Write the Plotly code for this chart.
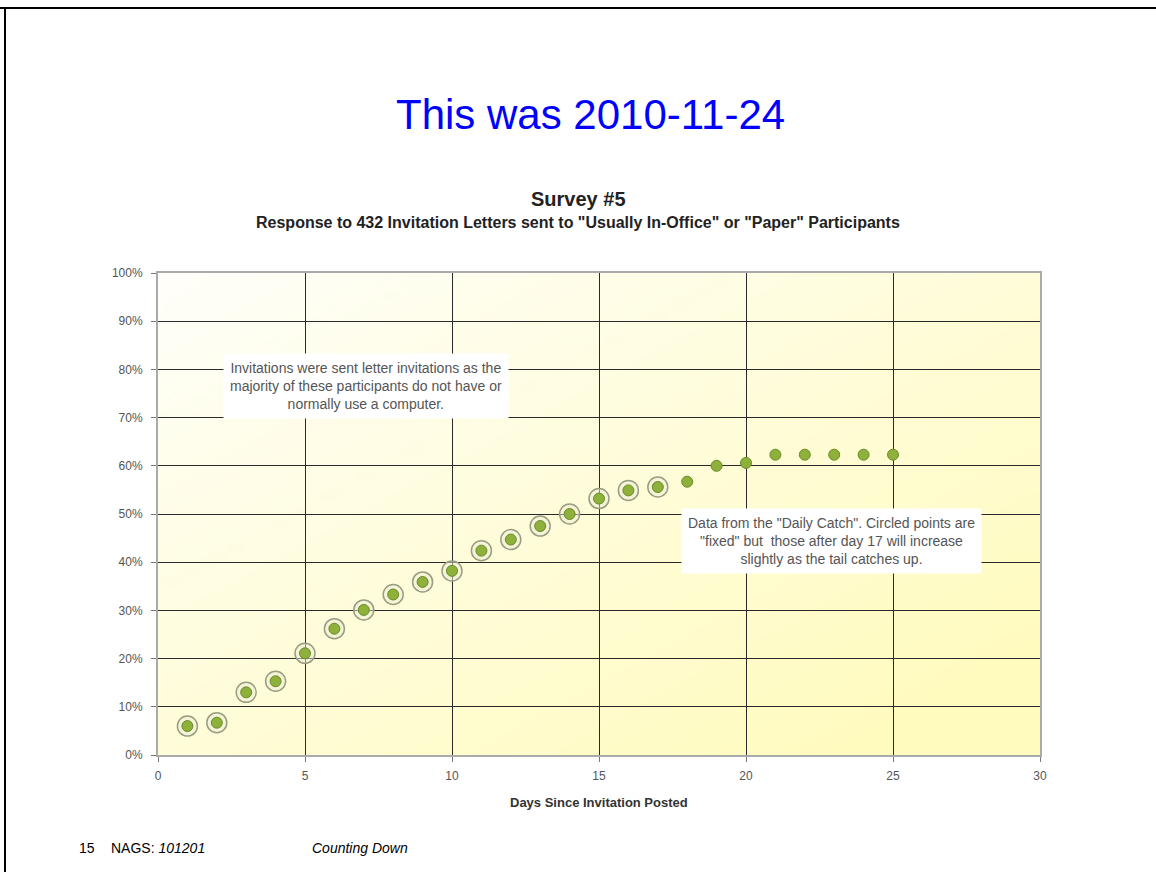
import base64
import struct
import zlib
import numpy as np
import plotly.graph_objects as go

days = list(range(1, 26))
pct = [0.060, 0.067, 0.130, 0.153, 0.211, 0.262, 0.301, 0.333, 0.359, 0.382,
       0.424, 0.447, 0.475, 0.500, 0.532, 0.549, 0.556, 0.567, 0.600, 0.606,
       0.623, 0.623, 0.623, 0.623, 0.623]
fixed_days = days[:17]
fixed_pct = pct[:17]

x_ticks = [0, 5, 10, 15, 20, 25, 30]
y_ticks = [0, 0.1, 0.2, 0.3, 0.4, 0.5, 0.6, 0.7, 0.8, 0.9, 1.0]

W, H = 1156, 872
L, R, T, B = 158, 116, 273, 117
PW, PH = W - L - R, H - T - B


def px(x):
    return (x - L) / PW


def py(y):
    return (H - B - y) / PH


def gradient_png(n=96):
    u = np.linspace(0, 1, n)[None, :]
    v = np.linspace(0, 1, n)[:, None]
    t = np.clip(0.55 * u + 0.55 * v, 0, 1)
    c0 = np.array([255, 255, 250])
    c1 = np.array([255, 251, 190])
    img = (c0[None, None, :] * (1 - t[..., None]) + c1[None, None, :] * t[..., None]).astype(np.uint8)
    raw = b"".join(b"\x00" + img[r].tobytes() for r in range(n))

    def chunk(tag, data):
        c = tag + data
        return struct.pack(">I", len(data)) + c + struct.pack(">I", zlib.crc32(c) & 0xffffffff)

    png = b"\x89PNG\r\n\x1a\n" + chunk(b"IHDR", struct.pack(">IIBBBBB", n, n, 8, 2, 0, 0, 0)) \
        + chunk(b"IDAT", zlib.compress(raw, 9)) + chunk(b"IEND", b"")
    return "data:image/png;base64," + base64.b64encode(png).decode()


fig = go.Figure()
fig.add_trace(go.Scatter(
    x=fixed_days, y=fixed_pct, mode="markers", hoverinfo="skip",
    marker=dict(symbol="circle", size=20, color="rgba(235,235,215,0.5)",
                line=dict(color="#9a9e80", width=1.5)),
    showlegend=False))
fig.add_trace(go.Scatter(
    x=days, y=pct, mode="markers",
    marker=dict(symbol="circle", size=11, color="#8db13a",
                line=dict(color="#6a8a28", width=1)),
    showlegend=False))

font = "Liberation Sans, Arial, sans-serif"
fig.update_layout(
    width=W, height=H,
    margin=dict(l=L, r=R, t=T, b=B),
    paper_bgcolor="white",
    plot_bgcolor="rgba(0,0,0,0)",
    font=dict(family=font, color="#444"),
    xaxis=dict(range=[0, 30], tickvals=x_ticks, ticks="outside", ticklen=5,
               tickcolor="#777", showgrid=True, gridcolor="#2a2a2a", gridwidth=1,
               showline=True, linecolor="#aaa", linewidth=2, mirror=True,
               zeroline=False, ticklabelstandoff=4,
               tickfont=dict(size=12, color="#555")),
    yaxis=dict(range=[0, 1], tickvals=y_ticks, tickformat=".0%", ticks="outside",
               ticklen=5, tickcolor="#777", showgrid=True, gridcolor="#2a2a2a",
               gridwidth=1, showline=True, linecolor="#aaa", linewidth=2, mirror=True,
               zeroline=False, ticklabelstandoff=6,
               tickfont=dict(size=12, color="#555")),
    images=[dict(source=gradient_png(), xref="paper", yref="paper", x=0, y=1,
                 sizex=1, sizey=1, sizing="stretch", layer="below",
                 xanchor="left", yanchor="top")],
)

anns = [
    dict(x=px(590), y=py(114), text="This was 2010-11-24",
         font=dict(size=42, color="#0000ff", family=font)),
    dict(x=px(578), y=py(199), text="<b>Survey #5</b>",
         font=dict(size=20, color="#222", family=font)),
    dict(x=px(578), y=py(223),
         text="<b>Response to 432 Invitation Letters sent to \"Usually In-Office\" or \"Paper\" Participants</b>",
         font=dict(size=16, color="#222", family=font)),
    dict(x=px(599), y=py(802), text="<b>Days Since Invitation Posted</b>",
         font=dict(size=13, color="#333", family=font)),
    dict(x=px(77), y=py(848), text="15", xanchor="left",
         font=dict(size=14, color="#000", family=font)),
    dict(x=px(109), y=py(848), text="NAGS: <i>101201</i>", xanchor="left",
         font=dict(size=14, color="#000", family=font)),
    dict(x=px(310), y=py(848), text="<i>Counting Down</i>", xanchor="left",
         font=dict(size=14, color="#000", family=font)),
    dict(x=7.07, y=0.765, xref="x", yref="y",
         text="Invitations were sent letter invitations as the<br>majority of these participants do not have or<br>normally use a computer.",
         bgcolor="white", borderpad=6,
         font=dict(size=14, color="#555", family=font)),
    dict(x=22.9, y=0.443, xref="x", yref="y",
         text="Data from the \"Daily Catch\". Circled points are<br>\"fixed\" but  those after day 17 will increase<br>slightly as the tail catches up.",
         bgcolor="white", borderpad=6,
         font=dict(size=14, color="#555", family=font)),
]
for a in anns:
    a.setdefault("xref", "paper")
    a.setdefault("yref", "paper")
    a.setdefault("xanchor", "center")
    a.setdefault("yanchor", "middle")
    a["showarrow"] = False
    fig.add_annotation(**a)

fig.add_shape(type="line", xref="paper", yref="paper", x0=px(0), x1=px(W),
              y0=py(8), y1=py(8), line=dict(color="black", width=2))
fig.add_shape(type="line", xref="paper", yref="paper", x0=px(5), x1=px(5),
              y0=py(8), y1=py(H), line=dict(color="black", width=2))

fig.write_html("out.html", config=dict(displayModeBar=False),
               post_script="document.body.style.margin='0px';")
